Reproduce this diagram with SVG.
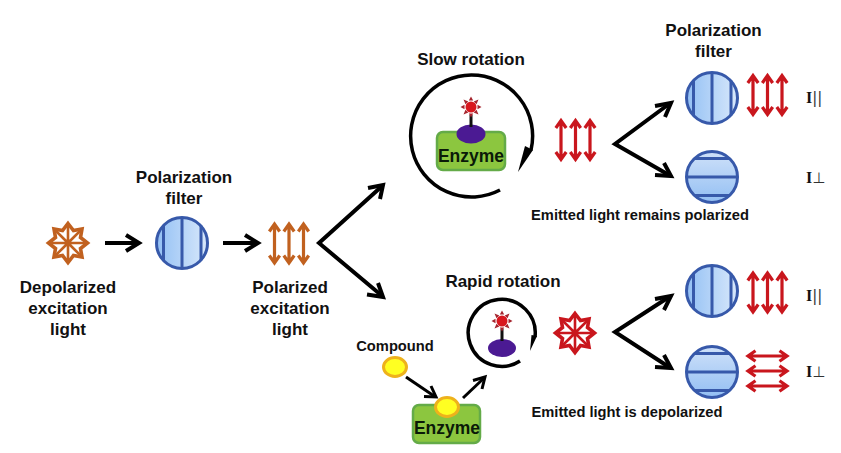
<svg xmlns="http://www.w3.org/2000/svg" width="841" height="453" viewBox="0 0 841 453">
  <style>
    text { font-family: "Liberation Sans", Arial, sans-serif; font-weight: 700; fill: #111; text-anchor: middle; }
    .lbl { font-size: 17px; }
    .small { font-size: 14.7px; }
    .enz { font-size: 17.5px; fill: #0a1a08; }
    .int { font-family: "Liberation Serif", serif; font-size: 16px; text-anchor: start; }
    .thin { font-family: "DejaVu Sans", sans-serif; font-weight: 400; font-size: 15px; fill: #333; }
    .disc { stroke: #3759aa; stroke-width: 3; }
    .grid { fill: none; stroke: #3759aa; stroke-width: 3; }
    .ray { fill: none; stroke: #000; stroke-width: 4; }
    .thinray { fill: none; stroke: #000; stroke-width: 3; }
    .enzbox { fill: #8cc63f; stroke: #64ab48; stroke-width: 2.5; }
    .ligand { fill: #ffff22; stroke: #eeb21c; stroke-width: 3; }
    .purple { fill: #4b1a93; }
    .orbit { fill: none; stroke: #000; stroke-width: 3.5; }
    .red-ray { fill: none; stroke: #c9161d; stroke-width: 3.2; }
    .brown-ray { fill: none; stroke: #c1611f; stroke-width: 3.2; }
  </style>
  <defs>
    <linearGradient id="lensV" x1="0" x2="1" y1="0" y2="0">
      <stop offset="0" stop-color="#93c0f4"/>
      <stop offset="1" stop-color="#d8e8fb"/>
    </linearGradient>
    <linearGradient id="lensH" x1="0" x2="0" y1="0" y2="1">
      <stop offset="0" stop-color="#cfe1f9"/>
      <stop offset="1" stop-color="#93bff3"/>
    </linearGradient>
    <!-- filter disc with vertical slits -->
    <g id="vfilter">
      <circle r="25.5" class="disc" fill="url(#lensV)"/>
      <path class="grid" d="M0-25V25M-18.5-17.5V17.5M19-17.5V17.5"/>
    </g>
    <!-- filter disc with horizontal slits -->
    <g id="hfilter">
      <circle r="25.5" class="disc" fill="url(#lensH)"/>
      <path class="grid" d="M-25 0H25M-17.5-18.5H17.5M-17.5 18.5H17.5"/>
    </g>
    <!-- one double-headed ray, vertical -->
    <path id="dbl" d="M0-19V19M-5.2-12L0-19.5L5.2-12M-5.2 12L0 19.5L5.2 12"/>
    <!-- three parallel rays -->
    <g id="triple">
      <use href="#dbl" x="-14.5"/>
      <use href="#dbl"/>
      <use href="#dbl" x="14.5"/>
    </g>
    <!-- eight pointed burst with inner spokes -->
    <g id="burst">
      <path d="M0-19.5L5.5-12.5L14-14L12.5-5.5L19.5 0L12.5 5.5L14 14L5.5 12.5L0 19.5L-5.5 12.5L-14 14L-12.5 5.5L-19.5 0L-12.5-5.5L-14-14L-5.5-12.5Z" stroke-width="3.6" stroke-linejoin="miter"/>
      <path d="M0-18V18M-18 0H18M-13-13L13 13M13-13L-13 13" stroke-width="2.6"/>
    </g>
    <!-- small fluorophore on a stalk -->
    <g id="fluor">
      <path d="M0 8V20" stroke="#111" stroke-width="3" fill="none"/>
      <circle r="5.5" fill="#d8171e"/>
      <path d="M0-10.5L2.2-6.5H-2.2ZM0 10.5L2.2 6.5H-2.2ZM-10.5 0L-6.5 2.2V-2.2ZM10.5 0L6.5 2.2V-2.2ZM-7.5-7.5L-2.7-5.5L-5.5-2.7ZM7.5-7.5L2.7-5.5L5.5-2.7ZM-7.5 7.5L-2.7 5.5L-5.5 2.7ZM7.5 7.5L2.7 5.5L5.5 2.7Z" fill="#a5252e"/>
    </g>
  </defs>

  <g id="connectors">
    <path class="ray" d="M105 243H138"/><path class="ray" d="M126 235L139 243L126 251"/>
    <path class="ray" d="M223 243H256"/><path class="ray" d="M245 235L258 243L245 251"/>
    <path class="ray" d="M381 187L319 243L381 295"/>
    <path class="ray" d="M368 188L383 185L380 199"/>
    <path class="ray" d="M367 294.500L383 297L378 283"/>
    <path class="ray" d="M669 104L615 144L669 175"/>
    <path class="ray" d="M655 106L671 103L665 117"/>
    <path class="ray" d="M655 175L671 176L664 163"/>
    <path class="ray" d="M669 297L615 332L669 367"/>
    <path class="ray" d="M655 299L671 296L664 310"/>
    <path class="ray" d="M655 367L671 368L664 355"/>
    <path class="thinray" d="M406 377L434 396"/><path class="thinray" d="M424 396.500L436 397L431 386"/>
    <path class="thinray" d="M463 398L483 379"/><path class="thinray" d="M473 380.500L485 377L482 389"/>
  </g>

  <g id="depolarized-source">
    <use href="#burst" x="68" y="243" fill="none" stroke="#c1611f"/>
    <text class="lbl" x="68" y="293">Depolarized</text>
    <text class="lbl" x="68" y="314">excitation</text>
    <text class="lbl" x="68" y="335">light</text>
  </g>

  <g id="entry-filter">
    <text class="lbl" x="184" y="183">Polarization</text>
    <text class="lbl" x="184" y="204">filter</text>
    <use href="#vfilter" x="182" y="243"/>
  </g>

  <g id="polarized-light">
    <use href="#triple" x="289" y="243.500" class="brown-ray"/>
    <text class="lbl" x="290" y="293">Polarized</text>
    <text class="lbl" x="290" y="314">excitation</text>
    <text class="lbl" x="290" y="335">light</text>
  </g>

  <g id="slow-rotation">
    <text class="lbl" x="471" y="65">Slow rotation</text>
    <path class="orbit" d="M531 150A61 61 0 1 0 500 190"/>
    <path d="M518 172L525 146L533 150Z" fill="#000"/>
    <rect class="enzbox" x="437" y="132" width="68" height="38" rx="6"/>
    <ellipse class="purple" cx="471" cy="134" rx="14.500" ry="9.500"/>
    <use href="#fluor" x="471" y="107"/>
    <text class="enz" x="471" y="162">Enzyme</text>
  </g>

  <g id="slow-emission">
    <use href="#triple" x="575.500" y="140" class="red-ray"/>
    <text class="small" x="640" y="220">Emitted light remains polarized</text>
  </g>

  <g id="upper-parallel">
    <text class="lbl" x="713.500" y="36">Polarization</text>
    <text class="lbl" x="713.500" y="57">filter</text>
    <use href="#vfilter" x="712" y="98"/>
    <use href="#triple" x="767.500" y="95" class="red-ray"/>
    <text class="int" x="806" y="103">I<tspan class="thin">||</tspan></text>
  </g>

  <g id="upper-perpendicular">
    <use href="#hfilter" x="712" y="177"/>
    <text class="int" x="806" y="183">I<tspan class="thin">⊥</tspan></text>
  </g>

  <g id="compound">
    <text class="small" x="395" y="351">Compound</text>
    <ellipse class="ligand" cx="395" cy="367" rx="11.500" ry="9.500"/>
  </g>

  <g id="bound-enzyme">
    <rect class="enzbox" x="413" y="405" width="67" height="38" rx="6"/>
    <ellipse class="ligand" cx="447" cy="407" rx="11.500" ry="9.500"/>
    <text class="enz" x="447" y="434">Enzyme</text>
  </g>

  <g id="rapid-rotation">
    <text class="lbl" x="503" y="287">Rapid rotation</text>
    <path class="orbit" d="M535 337A33.500 33.500 0 1 0 520 361"/>
    <path d="M530 351L531.500 335L537 336Z" fill="#000"/>
    <ellipse class="purple" cx="502" cy="348" rx="14" ry="9"/>
    <use href="#fluor" x="502" y="321"/>
  </g>

  <g id="rapid-emission">
    <use href="#burst" x="575" y="333" fill="none" stroke="#c9161d"/>
    <text class="small" x="627" y="417">Emitted light is depolarized</text>
  </g>

  <g id="lower-parallel">
    <use href="#vfilter" x="712" y="291"/>
    <use href="#triple" x="767.500" y="292.500" class="red-ray"/>
    <text class="int" x="806" y="301">I<tspan class="thin">||</tspan></text>
  </g>

  <g id="lower-perpendicular">
    <use href="#hfilter" x="712" y="372"/>
    <use href="#dbl" transform="translate(767.500 356) rotate(90)" class="red-ray"/>
    <use href="#dbl" transform="translate(767.500 371) rotate(90)" class="red-ray"/>
    <use href="#dbl" transform="translate(767.500 386) rotate(90)" class="red-ray"/>
    <text class="int" x="806" y="377">I<tspan class="thin">⊥</tspan></text>
  </g>
</svg>
